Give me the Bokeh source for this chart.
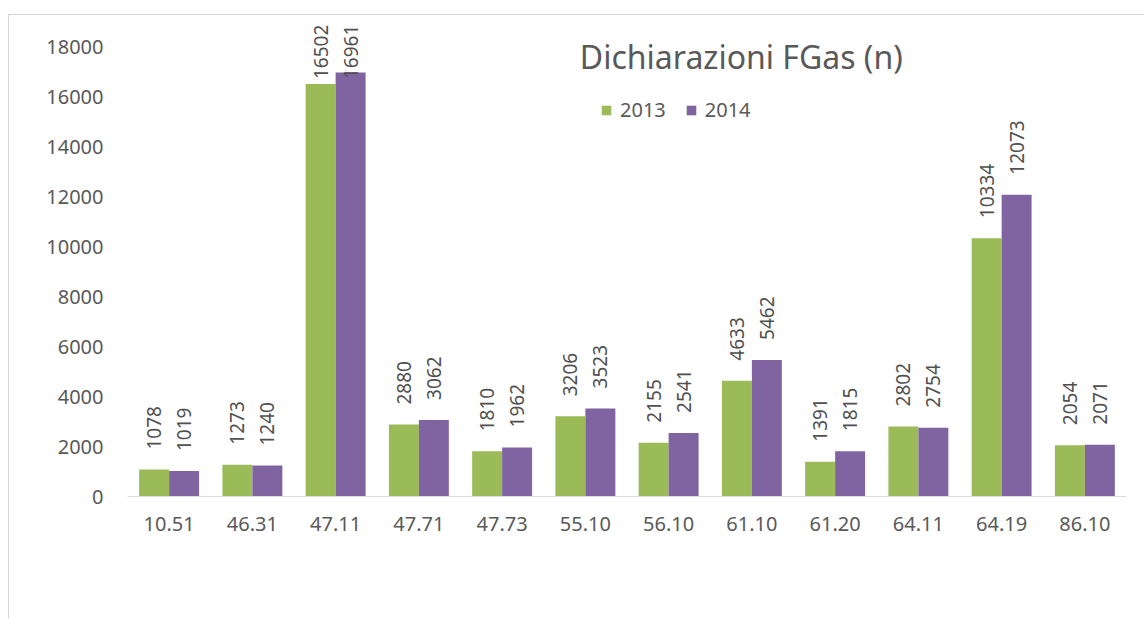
import numpy as np
from bokeh.plotting import figure
from bokeh.models import FactorRange, Range1d, FixedTicker, ColumnDataSource, Label
from bokeh.transform import dodge
from bokeh.core.properties import value
from bokeh.embed import file_html
from bokeh.resources import INLINE

categories = ["10.51", "46.31", "47.11", "47.71", "47.73", "55.10",
              "56.10", "61.10", "61.20", "64.11", "64.19", "86.10"]
values_2013 = [1078, 1273, 16502, 2880, 1810, 3206, 2155, 4633, 1391, 2802, 10334, 2054]
values_2014 = [1019, 1240, 16961, 3062, 1962, 3523, 2541, 5462, 1815, 2754, 12073, 2071]
series_names = ["2013", "2014"]
y_ticks = list(range(0, 18001, 2000))

GREEN = "#9BBB59"
PURPLE = "#8064A2"
TXT = "#595959"
FONT = "Noto Sans"

v13 = np.array(values_2013, dtype=float)
v14 = np.array(values_2014, dtype=float)
# label anchors: 20px above bar top (1 px = 40 units), kept inside the chart area
lab13 = np.minimum(v13 + 800, 16700)
lab14 = np.minimum(v14 + 800, 16700)

src = ColumnDataSource(dict(cat=categories, v13=v13, v14=v14,
                            l13=lab13, l14=lab14,
                            t13=[str(v) for v in values_2013],
                            t14=[str(v) for v in values_2014]))

p = figure(x_range=FactorRange(*categories, range_padding=0, factor_padding=0),
           y_range=Range1d(0, 19040),
           width=1136, height=604, output_backend="svg", toolbar_location=None,
           min_border_left=118, min_border_right=19, min_border_top=5,
           min_border_bottom=123,
           margin=(14, 0, 0, 8),
           styles={"border-top": "1px solid #D4D4D4",
                   "border-left": "1px solid #D4D4D4"})
p.outline_line_color = None
p.xgrid.grid_line_color = None
p.ygrid.grid_line_color = None
p.background_fill_color = "white"
p.border_fill_color = "white"

W = 0.36
p.vbar(x=dodge("cat", -W / 2, range=p.x_range), top="v13", width=W, source=src,
       color=GREEN, line_color=None, legend_label=series_names[0])
p.vbar(x=dodge("cat", W / 2, range=p.x_range), top="v14", width=W, source=src,
       color=PURPLE, line_color=None, legend_label=series_names[1])

p.text(x=dodge("cat", -W / 2, range=p.x_range), y="l13", text="t13", source=src,
       angle=np.pi / 2, text_align="left", text_baseline="middle",
       text_font=value(FONT), text_font_size="19px", text_color="#505050")
p.text(x=dodge("cat", W / 2, range=p.x_range), y="l14", text="t14", source=src,
       angle=np.pi / 2, text_align="left", text_baseline="middle",
       text_font=value(FONT), text_font_size="19px", text_color="#505050")

# axes
p.yaxis.ticker = FixedTicker(ticks=y_ticks)
p.yaxis.axis_line_color = None
p.yaxis.major_tick_line_color = None
p.yaxis.minor_tick_line_color = None
p.yaxis.major_label_standoff = 18
p.yaxis.major_label_text_font = FONT
p.yaxis.major_label_text_font_size = "20px"
p.yaxis.major_label_text_color = TXT

p.xaxis.axis_line_color = "#D9D9D9"
p.xaxis.axis_line_width = 1
p.xaxis.major_tick_line_color = None
p.xaxis.minor_tick_line_color = None
p.xaxis.major_label_standoff = 14
p.xaxis.major_label_text_font = FONT
p.xaxis.major_label_text_font_size = "20px"
p.xaxis.major_label_text_color = TXT

# title
p.add_layout(Label(x=618, y=440, x_units="screen", y_units="screen",
                   text="Dichiarazioni  FGas (n)", text_font=FONT,
                   text_font_size="32px", text_color=TXT,
                   text_align="center", text_baseline="middle"))

# legend
lg = p.legend[0]
lg.location = (473, 373)
lg.orientation = "horizontal"
lg.border_line_color = None
lg.background_fill_alpha = 0
lg.padding = 0
lg.margin = 0
lg.spacing = 19
lg.glyph_width = 12
lg.glyph_height = 12
lg.label_standoff = 8
lg.label_text_font = FONT
lg.label_text_font_size = "20px"
lg.label_text_color = TXT

open("out.html", "w").write(file_html(p, INLINE))
